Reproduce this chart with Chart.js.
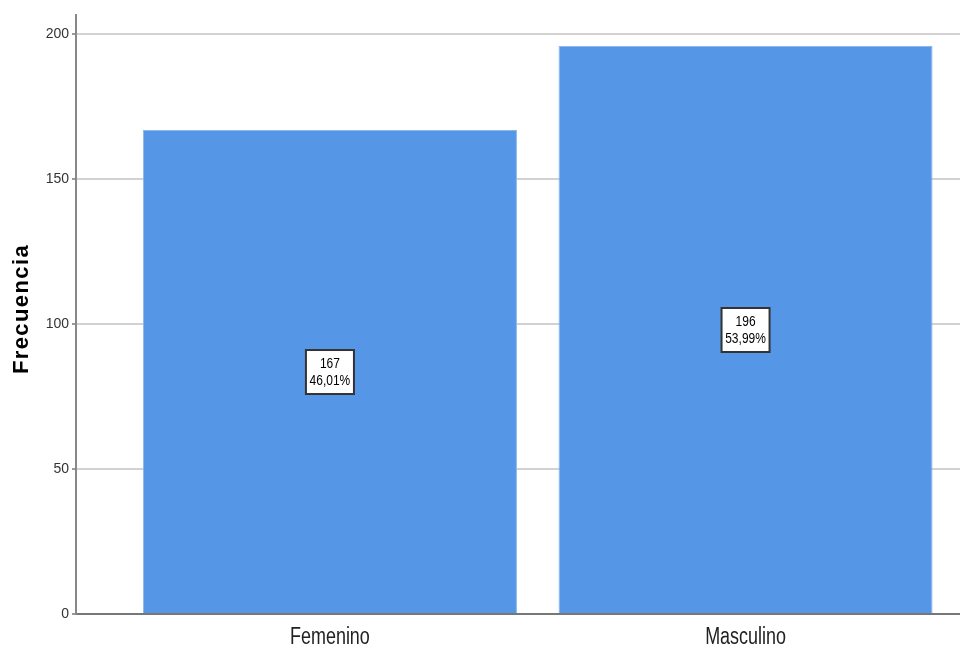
<!DOCTYPE html>
<html>
<head>
<meta charset="utf-8">
<script src="https://cdn.jsdelivr.net/npm/chart.js@4"></script>
<style>
  html, body { margin: 0; padding: 0; background: #fff; }
  #wrap { width: 960px; height: 651px; }
</style>
</head>
<body>
<div id="wrap"><canvas id="chart"></canvas></div>
<script>
const categories = ['Femenino', 'Masculino'];
const frequencies = [167, 196];
const percentLabels = ['46,01%', '53,99%'];
const yTicks = [0, 50, 100, 150, 200];
const yTitle = 'Frecuencia';

const FONT = '"Liberation Sans", Arial, sans-serif';

// draw text squeezed horizontally (the original uses a narrow font)
function narrowText(ctx, text, x, y, sx) {
    ctx.save();
    ctx.translate(x, y);
    ctx.scale(sx, 1);
    ctx.fillText(text, 0, 0);
    ctx.restore();
}

// boxed value labels in the middle of each bar, x labels and y title
const extras = {
    id: 'extras',
    afterDatasetsDraw(chart) {
        const ctx = chart.ctx;
        const xs = chart.scales.x;
        const ys = chart.scales.y;
        ctx.save();
        ctx.textAlign = 'center';
        ctx.textBaseline = 'middle';
        frequencies.forEach((v, i) => {
            const cx = xs.getPixelForValue(i);
            const cy = ys.getPixelForValue(v / 2);
            const w = 48, h = 44;
            ctx.fillStyle = '#fff';
            ctx.fillRect(cx - w / 2, cy - h / 2, w, h);
            ctx.strokeStyle = '#333';
            ctx.lineWidth = 2;
            ctx.strokeRect(cx - w / 2, cy - h / 2, w, h);
            ctx.fillStyle = '#000';
            ctx.font = '15px ' + FONT;
            narrowText(ctx, String(v), cx, cy - 8, 0.8);
            narrowText(ctx, percentLabels[i], cx, cy + 9, 0.8);
        });

        // category labels
        ctx.fillStyle = '#222';
        ctx.font = '23px ' + FONT;
        categories.forEach((c, i) => {
            narrowText(ctx, c, xs.getPixelForValue(i), xs.top + 24, 0.78);
        });

        // y axis title
        ctx.save();
        ctx.translate(22, 309);
        ctx.rotate(-Math.PI / 2);
        ctx.fillStyle = '#000';
        ctx.font = 'bold 22px ' + FONT;
        ctx.letterSpacing = '1.4px';
        ctx.fillText(yTitle, 0, 0);
        ctx.restore();
        ctx.restore();
    }
};

const ctx = document.getElementById('chart').getContext('2d');
new Chart(ctx, {
    type: 'bar',
    data: {
        datasets: [{
            data: frequencies.map((v, i) => ({ x: i, y: v })),
            backgroundColor: '#5596e6',
            borderColor: '#8db8ee',
            borderWidth: 1,
            barPercentage: 0.9,
            categoryPercentage: 1.0,
        }],
    },
    options: {
        responsive: true,
        maintainAspectRatio: false,
        animation: false,
        layout: { padding: { top: 15, right: 0, left: 0, bottom: 0 } },
        plugins: {
            legend: { display: false },
            tooltip: { enabled: false },
        },
        scales: {
            x: {
                type: 'linear',
                offset: false,
                min: -0.611,
                max: 1.516,
                afterBuildTicks: (axis) => {
                    axis.ticks = categories.map((c, i) => ({ value: i }));
                },
                afterFit: (axis) => { axis.height = 37; },
                ticks: { display: false },
                grid: { display: false, drawTicks: false, offset: false },
                border: { color: '#777', width: 2 },
            },
            y: {
                min: 0,
                max: 206.7,
                afterBuildTicks: (axis) => {
                    axis.ticks = yTicks.map(v => ({ value: v }));
                },
                afterFit: (axis) => { axis.width = 76; },
                ticks: {
                    color: '#333',
                    font: { family: FONT, size: 14 },
                    padding: 3,
                },
                grid: {
                    color: '#d2d2d2',
                    lineWidth: 2,
                    tickLength: 4,
                    tickColor: '#999',
                },
                border: { color: '#888', width: 2 },
            },
        },
    },
    plugins: [extras],
});
</script>
</body>
</html>
